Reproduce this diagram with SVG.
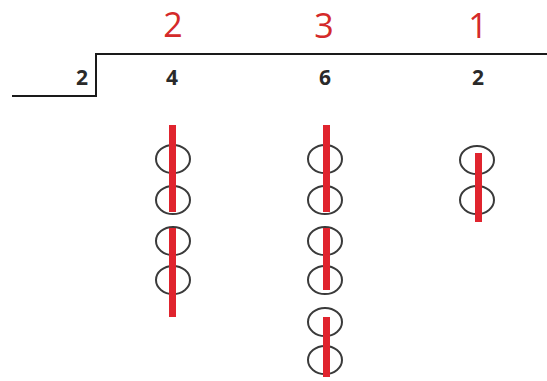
<svg xmlns="http://www.w3.org/2000/svg" width="547" height="381" viewBox="0 0 547 381">
  <style>
    .quot { font-family: "Open Sans", "Liberation Sans", sans-serif; font-size: 34px; fill: #d42a2a; text-anchor: middle; }
    .dig { font-family: "Open Sans", "Liberation Sans", sans-serif; font-size: 21px; font-weight: bold; fill: #2a2a2a; text-anchor: middle; }
    .bracket { fill: none; stroke: #1a1a1a; stroke-width: 2; }
    .ring { fill: none; stroke: #3a3a3a; stroke-width: 2; }
    .bar { fill: #e0242e; }
  </style>
  <rect width="547" height="381" fill="#ffffff"/>

  <!-- division bracket -->
  <g id="bracket">
    <path class="bracket" d="M547 54 H96 V96 H12"/>
  </g>

  <!-- quotient digits -->
  <g id="quotient">
    <text class="quot" x="173" y="37">2</text>
    <text class="quot" x="324" y="38">3</text>
    <text class="quot" x="478" y="38">1</text>
  </g>

  <!-- divisor and dividend -->
  <g id="dividend">
    <text class="dig" x="82" y="85">2</text>
    <text class="dig" x="172" y="85">4</text>
    <text class="dig" x="325" y="85">6</text>
    <text class="dig" x="478" y="85">2</text>
  </g>

  <!-- column for 4: two pairs -->
  <g id="col-4">
    <ellipse class="ring" cx="173" cy="159" rx="17" ry="14"/>
    <ellipse class="ring" cx="173" cy="200" rx="17" ry="14"/>
    <ellipse class="ring" cx="173" cy="241" rx="17" ry="14"/>
    <ellipse class="ring" cx="173" cy="280" rx="17" ry="14"/>
    <rect class="bar" x="169" y="125" width="7" height="87"/>
    <rect class="bar" x="169" y="228" width="7" height="89"/>
  </g>

  <!-- column for 6: three pairs -->
  <g id="col-6">
    <ellipse class="ring" cx="325" cy="159" rx="17" ry="14"/>
    <ellipse class="ring" cx="325" cy="200" rx="17" ry="14"/>
    <ellipse class="ring" cx="325" cy="241" rx="17" ry="14"/>
    <ellipse class="ring" cx="325" cy="280" rx="17" ry="14"/>
    <ellipse class="ring" cx="325" cy="322" rx="17" ry="14"/>
    <ellipse class="ring" cx="325" cy="360" rx="17" ry="14"/>
    <rect class="bar" x="323" y="125" width="7" height="87"/>
    <rect class="bar" x="323" y="228" width="7" height="62"/>
    <rect class="bar" x="323" y="317" width="7" height="60"/>
  </g>

  <!-- column for 2: one pair -->
  <g id="col-2">
    <ellipse class="ring" cx="477" cy="160" rx="17" ry="14"/>
    <ellipse class="ring" cx="477" cy="200" rx="17" ry="14"/>
    <rect class="bar" x="475" y="153" width="7" height="69"/>
  </g>
</svg>
